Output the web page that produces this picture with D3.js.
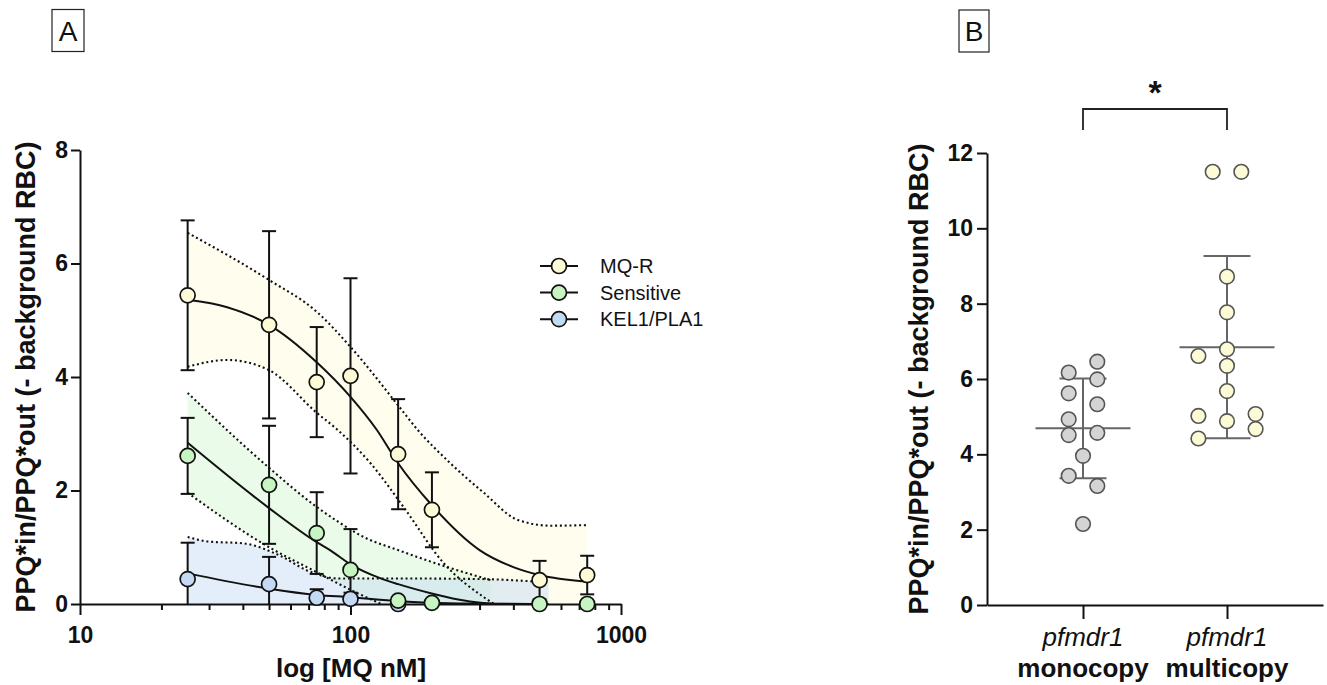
<!DOCTYPE html>
<html><head><meta charset="utf-8">
<script src="https://cdn.jsdelivr.net/npm/d3@7"></script>
<style>body{margin:0;background:#fff} svg{display:block} text{font-family:"Liberation Sans",Arial,sans-serif}</style>
</head><body><svg id="c" width="1327" height="685"></svg>
<script>
// ---------- Panel A data ----------
const seriesNames = ["MQ-R", "Sensitive", "KEL1/PLA1"];
const concMQR = [25, 50, 75, 100, 150, 200, 500, 750];
const meanMQR = [5.44, 4.92, 3.91, 4.02, 2.64, 1.66, 0.42, 0.51];
const sdMQR   = [1.32, 1.65, 0.97, 1.72, 0.97, 0.66, 0.34, 0.34];
const concSens = [25, 50, 75, 100, 150, 200, 500, 750];
const meanSens = [2.61, 2.10, 1.25, 0.60, 0.06, 0.02, 0.0, 0.0];
const sdSens   = [0.67, 1.04, 0.72, 0.72, 0.05, 0.03, 0, 0];
const concKel = [25, 50, 75, 100, 150];
const meanKel = [0.44, 0.35, 0.11, 0.09, 0.0];
const sdKel   = [0.64, 0.48, 0.15, 0.11, 0.02];

// fitted curves and 95% CI bands
const fitMQRx = [25, 35, 50, 75, 100, 125, 150, 200, 300, 400, 500, 750];
const fitMQRy = [5.36, 5.23, 4.92, 4.26, 3.65, 3.07, 2.48, 1.74, 0.95, 0.65, 0.51, 0.39];
const ciHiMQRx = [25, 50, 75, 100, 150, 177, 234, 311, 416, 550, 750];
const ciHiMQRy = [6.54, 5.71, 5.15, 4.53, 3.5, 3.07, 2.48, 1.96, 1.48, 1.38, 1.39];
const ciLoMQRx = [25, 35, 50, 75, 89.5, 118.6, 157, 221, 311, 339];
const ciLoMQRy = [4.18, 4.30, 4.12, 3.37, 3.07, 2.48, 1.71, 0.72, 0.12, 0];

const fitSensx = [25, 50, 75, 84, 100, 128, 150, 198, 250, 303, 340];
const fitSensy = [2.84, 1.69, 1.09, 0.95, 0.70, 0.46, 0.35, 0.19, 0.08, 0.02, 0.0];
const ciHiSensx = [25, 50, 75, 90, 112, 150, 215, 330];
const ciHiSensy = [3.72, 2.40, 1.71, 1.45, 1.18, 0.95, 0.69, 0.42];
const ciLoSensx = [25, 50, 75, 100, 130];
const ciLoSensy = [1.96, 1.00, 0.56, 0.25, 0.0];

const fitKelx = [25, 50, 75, 100, 150, 250, 540];
const fitKely = [0.54, 0.27, 0.16, 0.12, 0.05, 0.01, 0.0];
const ciHiKelx = [25, 30, 40, 55, 70, 90, 150, 300, 540];
const ciHiKely = [1.18, 1.10, 1.07, 0.85, 0.58, 0.45, 0.45, 0.44, 0.38];
const ciLoKelx = [];
const ciLoKely = [];

const xTicksMajor = [10, 100, 1000];
const xTicksMinor = [20,30,40,50,60,70,80,90,200,300,400,500,600,700,800,900];
const yTicksA = [0, 2, 4, 6, 8];

// ---------- Panel B data ----------
const groupNames = ["pfmdr1 monocopy", "pfmdr1 multicopy"];
const monoVals = [6.46, 6.17, 5.99, 5.62, 5.33, 4.93, 4.57, 4.51, 3.96, 3.43, 3.16, 2.15];
const monoSlot = [1, -1, 1, -1, 1, -1, 1, -1, 0, -1, 1, 0];
const multiVals = [11.5, 11.5, 8.72, 7.77, 6.79, 6.61, 6.35, 5.68, 5.07, 5.02, 4.88, 4.67, 4.42];
const multiSlot = [-1, 1, 0, 0, 0, -2, 0, 0, 2, -2, 0, 2, -2];
const yTicksB = [0, 2, 4, 6, 8, 10, 12];

// ---------- styles ----------
const colMQR = "#fdfad6", colSens = "#c6f5c2", colKel = "#c4d9f4";
const FONT = '"Liberation Sans", Arial, sans-serif';

const svg = d3.select("#c");

// ================= Panel A =================
const xA = d3.scaleLog().domain([10, 1000]).range([80, 621]);
const yA = d3.scaleLinear().domain([0, 8]).range([604, 150]);

svg.append("defs").append("clipPath").attr("id", "clipA")
  .append("rect").attr("x", 80).attr("y", 120).attr("width", 541).attr("height", 484);

const line = d3.line().x(d => xA(d[0])).y(d => yA(d[1])).curve(d3.curveMonotoneX);
const zip = (a, b) => a.map((v, i) => [v, b[i]]);

const series = [
  {name: seriesNames[0], col: colMQR, conc: concMQR, mean: meanMQR, sd: sdMQR,
   fit: zip(fitMQRx, fitMQRy), hi: zip(ciHiMQRx, ciHiMQRy), lo: zip(ciLoMQRx, ciLoMQRy), bandOp: 0.42},
  {name: seriesNames[1], col: colSens, conc: concSens, mean: meanSens, sd: sdSens,
   fit: zip(fitSensx, fitSensy), hi: zip(ciHiSensx, ciHiSensy), lo: zip(ciLoSensx, ciLoSensy), bandOp: 0.36},
  {name: seriesNames[2], col: colKel, conc: concKel, mean: meanKel, sd: sdKel,
   fit: zip(fitKelx, fitKely), hi: zip(ciHiKelx, ciHiKely), lo: zip(ciLoKelx, ciLoKely), bandOp: 0.45}
];

const gA = svg.append("g").attr("clip-path", "url(#clipA)");
// bands
series.forEach(s => {
  const last = s.hi[s.hi.length - 1][0];
  let lo = s.lo.length ? s.lo.slice() : [[s.hi[0][0], 0]];
  lo = lo.concat([[last, 0]]);
  const up = line(s.hi);
  const dn = line(lo.slice().reverse());
  gA.append("path").attr("d", up + "L" + dn.slice(1) + "Z")
    .attr("fill", s.col).attr("fill-opacity", s.bandOp).attr("stroke", "none");
});
// CI dotted lines
series.forEach(s => {
  [s.hi, s.lo].forEach(arr => {
    if (!arr.length) return;
    gA.append("path").attr("d", line(arr)).attr("fill", "none")
      .attr("stroke", "#111").attr("stroke-width", 2.1).attr("stroke-dasharray", "2,2.8");
  });
});
// fitted curves
series.forEach(s => {
  gA.append("path").attr("d", line(s.fit)).attr("fill", "none")
    .attr("stroke", "#111").attr("stroke-width", 2);
});
// error bars
series.forEach(s => {
  s.conc.forEach((c, i) => {
    if (!s.sd[i]) return;
    const x = xA(c), top = yA(s.mean[i] + s.sd[i]);
    const lowV = s.mean[i] - s.sd[i];
    const bot = yA(Math.max(lowV, 0));
    gA.append("line").attr("x1", x).attr("x2", x).attr("y1", top).attr("y2", bot)
      .attr("stroke", "#111").attr("stroke-width", 2);
    gA.append("line").attr("x1", x - 7).attr("x2", x + 7).attr("y1", top).attr("y2", top)
      .attr("stroke", "#111").attr("stroke-width", 2);
    if (lowV > 0) gA.append("line").attr("x1", x - 7).attr("x2", x + 7).attr("y1", bot).attr("y2", bot)
      .attr("stroke", "#111").attr("stroke-width", 2);
  });
});

// axes A
const axY = svg.append("g").attr("transform", "translate(80,0)")
  .call(d3.axisLeft(yA).tickValues(yTicksA).tickSize(9).tickSizeOuter(0).tickPadding(3));
const axXmin = svg.append("g").attr("transform", "translate(0,604)")
  .call(d3.axisBottom(xA).tickValues(xTicksMinor).tickSize(6).tickSizeOuter(0).tickFormat(""));
axXmin.select(".domain").remove();
const axX = svg.append("g").attr("transform", "translate(0,604)")
  .call(d3.axisBottom(xA).tickValues(xTicksMajor).tickSize(11).tickSizeOuter(0).tickPadding(12).tickFormat(d3.format("d")));
[axY, axXmin, axX].forEach(g => {
  g.selectAll("path,line").attr("stroke", "#111").attr("stroke-width", 2);
  g.selectAll("text").attr("fill", "#111").style("font-family", FONT).style("font-weight", "bold").style("font-size", "23px");
});

// symbols (drawn after axes so they sit on top)
[series[0], series[2], series[1]].forEach(s => {
  svg.append("g").selectAll("circle").data(s.conc).join("circle")
    .attr("cx", d => xA(d)).attr("cy", (d, i) => yA(s.mean[i])).attr("r", 7.5)
    .attr("fill", s.col).attr("stroke", "#111").attr("stroke-width", 1.7);
});

// axis titles A
svg.append("text").attr("transform", "translate(35,377) rotate(-90)").attr("text-anchor", "middle")
  .style("font-weight", "bold").style("font-size", "27px").attr("fill", "#111")
  .text("PPQ*in/PPQ*out (- background RBC)");
svg.append("text").attr("x", 351).attr("y", 677).attr("text-anchor", "middle")
  .style("font-weight", "bold").style("font-size", "26px").attr("fill", "#111")
  .text("log [MQ nM]");

// legend
const leg = svg.append("g");
series.forEach((s, i) => {
  const y = 266 + i * 26.6;
  leg.append("line").attr("x1", 540).attr("x2", 578).attr("y1", y).attr("y2", y)
    .attr("stroke", "#111").attr("stroke-width", 2);
  leg.append("circle").attr("cx", 559).attr("cy", y).attr("r", 7.5)
    .attr("fill", s.col).attr("stroke", "#111").attr("stroke-width", 1.7);
  leg.append("text").attr("x", 600).attr("y", y + 7).style("font-size", "20px").attr("fill", "#111").text(s.name);
});

// panel letter A
svg.append("rect").attr("x", 52).attr("y", 9.5).attr("width", 32).attr("height", 42)
  .attr("fill", "none").attr("stroke", "#222").attr("stroke-width", 1.2);
svg.append("text").attr("x", 68).attr("y", 41).attr("text-anchor", "middle")
  .style("font-size", "28px").attr("fill", "#111").text("A");

// ================= Panel B =================
const xB = d3.scalePoint().domain(groupNames).range([987, 1323]).padding(2 / 3);
const yB = d3.scaleLinear().domain([0, 12]).range([605, 153]);
const slotW = 14.3;

const axYB = svg.append("g").attr("transform", "translate(987,0)")
  .call(d3.axisLeft(yB).tickValues(yTicksB).tickSize(10).tickSizeOuter(0).tickPadding(4));
const axXB = svg.append("g").attr("transform", "translate(0,605)")
  .call(d3.axisBottom(xB).tickSize(14).tickSizeOuter(0).tickFormat(""));
[axYB, axXB].forEach(g => {
  g.selectAll("path,line").attr("stroke", "#111").attr("stroke-width", 2);
  g.selectAll("text").attr("fill", "#111").style("font-family", FONT).style("font-weight", "bold").style("font-size", "23px");
});

const groups = [
  {name: groupNames[0], vals: monoVals, slot: monoSlot, fill: "#d4d4d4"},
  {name: groupNames[1], vals: multiVals, slot: multiSlot, fill: "#fdfbd6"}
];
groups.forEach(g => {
  const cx = xB(g.name);
  const m = d3.mean(g.vals), sd = d3.deviation(g.vals);
  const gg = svg.append("g");
  gg.append("line").attr("x1", cx).attr("x2", cx).attr("y1", yB(m + sd)).attr("y2", yB(m - sd))
    .attr("stroke", "#666").attr("stroke-width", 2);
  [[m + sd, 23.5], [m - sd, 23.5], [m, 47.5]].forEach(([v, w]) => {
    gg.append("line").attr("x1", cx - w).attr("x2", cx + w).attr("y1", yB(v)).attr("y2", yB(v))
      .attr("stroke", "#666").attr("stroke-width", 2);
  });
  gg.selectAll("circle").data(g.vals).join("circle")
    .attr("cx", (d, i) => cx + g.slot[i] * slotW).attr("cy", d => yB(d)).attr("r", 7.3)
    .attr("fill", g.fill).attr("stroke", "#555").attr("stroke-width", 1.6);
  const parts = g.name.split(" ");
  svg.append("text").attr("x", cx).attr("y", 646).attr("text-anchor", "middle")
    .style("font-style", "italic").style("font-size", "26px").attr("fill", "#111").text(parts[0]);
  svg.append("text").attr("x", cx).attr("y", 677).attr("text-anchor", "middle")
    .style("font-weight", "bold").style("font-size", "26px").attr("fill", "#111").text(parts[1]);
});

// significance bracket
const bx1 = xB(groupNames[0]), bx2 = xB(groupNames[1]);
svg.append("path").attr("d", `M${bx1},130V109H${bx2}V130`).attr("fill", "none")
  .attr("stroke", "#222").attr("stroke-width", 1.8);
svg.append("text").attr("x", (bx1 + bx2) / 2).attr("y", 104).attr("text-anchor", "middle")
  .style("font-weight", "bold").style("font-size", "34px").attr("fill", "#111").text("*");

svg.append("text").attr("transform", "translate(928,379) rotate(-90)").attr("text-anchor", "middle")
  .style("font-weight", "bold").style("font-size", "27px").attr("fill", "#111")
  .text("PPQ*in/PPQ*out (- background RBC)");

svg.append("rect").attr("x", 959).attr("y", 10).attr("width", 30).attr("height", 42)
  .attr("fill", "none").attr("stroke", "#222").attr("stroke-width", 1.2);
svg.append("text").attr("x", 974).attr("y", 41).attr("text-anchor", "middle")
  .style("font-size", "28px").attr("fill", "#111").text("B");
</script></body></html>
